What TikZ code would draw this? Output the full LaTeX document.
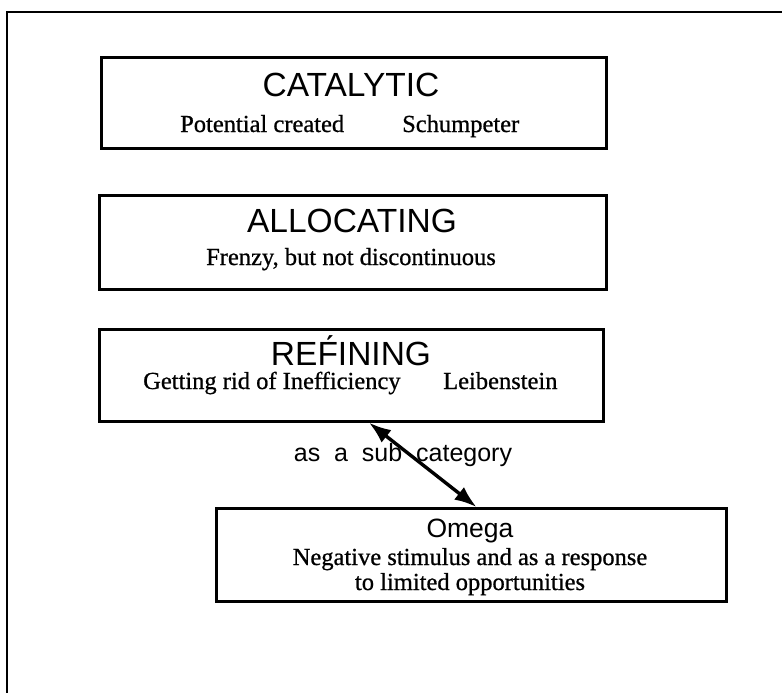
\documentclass[tikz,border=0pt]{standalone}
\usepackage{fontspec}
\setmainfont[FakeBold=0.8]{Liberation Serif}
\setsansfont{Liberation Sans}
\usetikzlibrary{arrows.meta,calc}
\begin{document}
\begin{tikzpicture}[x=1pt,y=-1pt,
  stagebox/.style={draw,line width=2.7pt,rectangle,inner sep=0pt,anchor=north west},
  ttl/.style={font=\fontsize{33.5}{40}\selectfont\sffamily,inner sep=0pt,anchor=base},
  sub/.style={font=\fontsize{24.5}{29}\selectfont\rmfamily,inner sep=0pt,anchor=base},
  subw/.style={sub,anchor=base west},
  lbl/.style={font=\fontsize{25}{30}\selectfont\sffamily,inner sep=0pt,anchor=base},
  link/.style={line width=3.4pt,{Latex[length=22pt,width=16pt]}-{Latex[length=22pt,width=16pt]}}]
\useasboundingbox (0,0) rectangle (782,693);
% outer frame (left and top edges)
\draw[line width=2pt] (7,700) -- (7,12) -- (790,12);

% CATALYTIC
\node[stagebox,minimum width=505pt,minimum height=91pt] (cat) at (100,56) {};
\node[ttl] (catT) at (351,96) {CATALYTIC};
\node[subw] (catA) at (180,132) {Potential created};
\node[subw] (catB) at (402,132) {Schumpeter};

% ALLOCATING
\node[stagebox,minimum width=507pt,minimum height=94pt] (alo) at (98,194) {};
\node[ttl] (aloT) at (352,232) {ALLOCATING};
\node[sub] (aloA) at (351,265) {Frenzy, but not discontinuous};

% REFINING
\node[stagebox,minimum width=504pt,minimum height=92pt] (ref) at (98,328) {};
\node[ttl] (refT) at (351,365) {RE\'FINING};
\node[subw] (refA) at (143,389) {Getting rid of Inefficiency};
\node[subw] (refB) at (443,389) {Leibenstein};

% Omega
\node[stagebox,minimum width=510pt,minimum height=93pt] (omg) at (215,507) {};
\node[font=\fontsize{26.5}{32}\selectfont\sffamily,inner sep=0pt,anchor=base] (omgT) at (470,537) {Omega};
\node[sub] (omgA) at (470,565) {Negative stimulus and as a response};
\node[sub] (omgB) at (470,590) {to limited opportunities};

% relation between REFINING and Omega
\node[lbl] (rel) at (403,461) {as~~a~~sub~~category};
\draw[link] ($(ref.south west)!0.535!(ref.south east)$) -- ($(omg.north west)!0.51!(omg.north east)$);
\end{tikzpicture}
\end{document}
